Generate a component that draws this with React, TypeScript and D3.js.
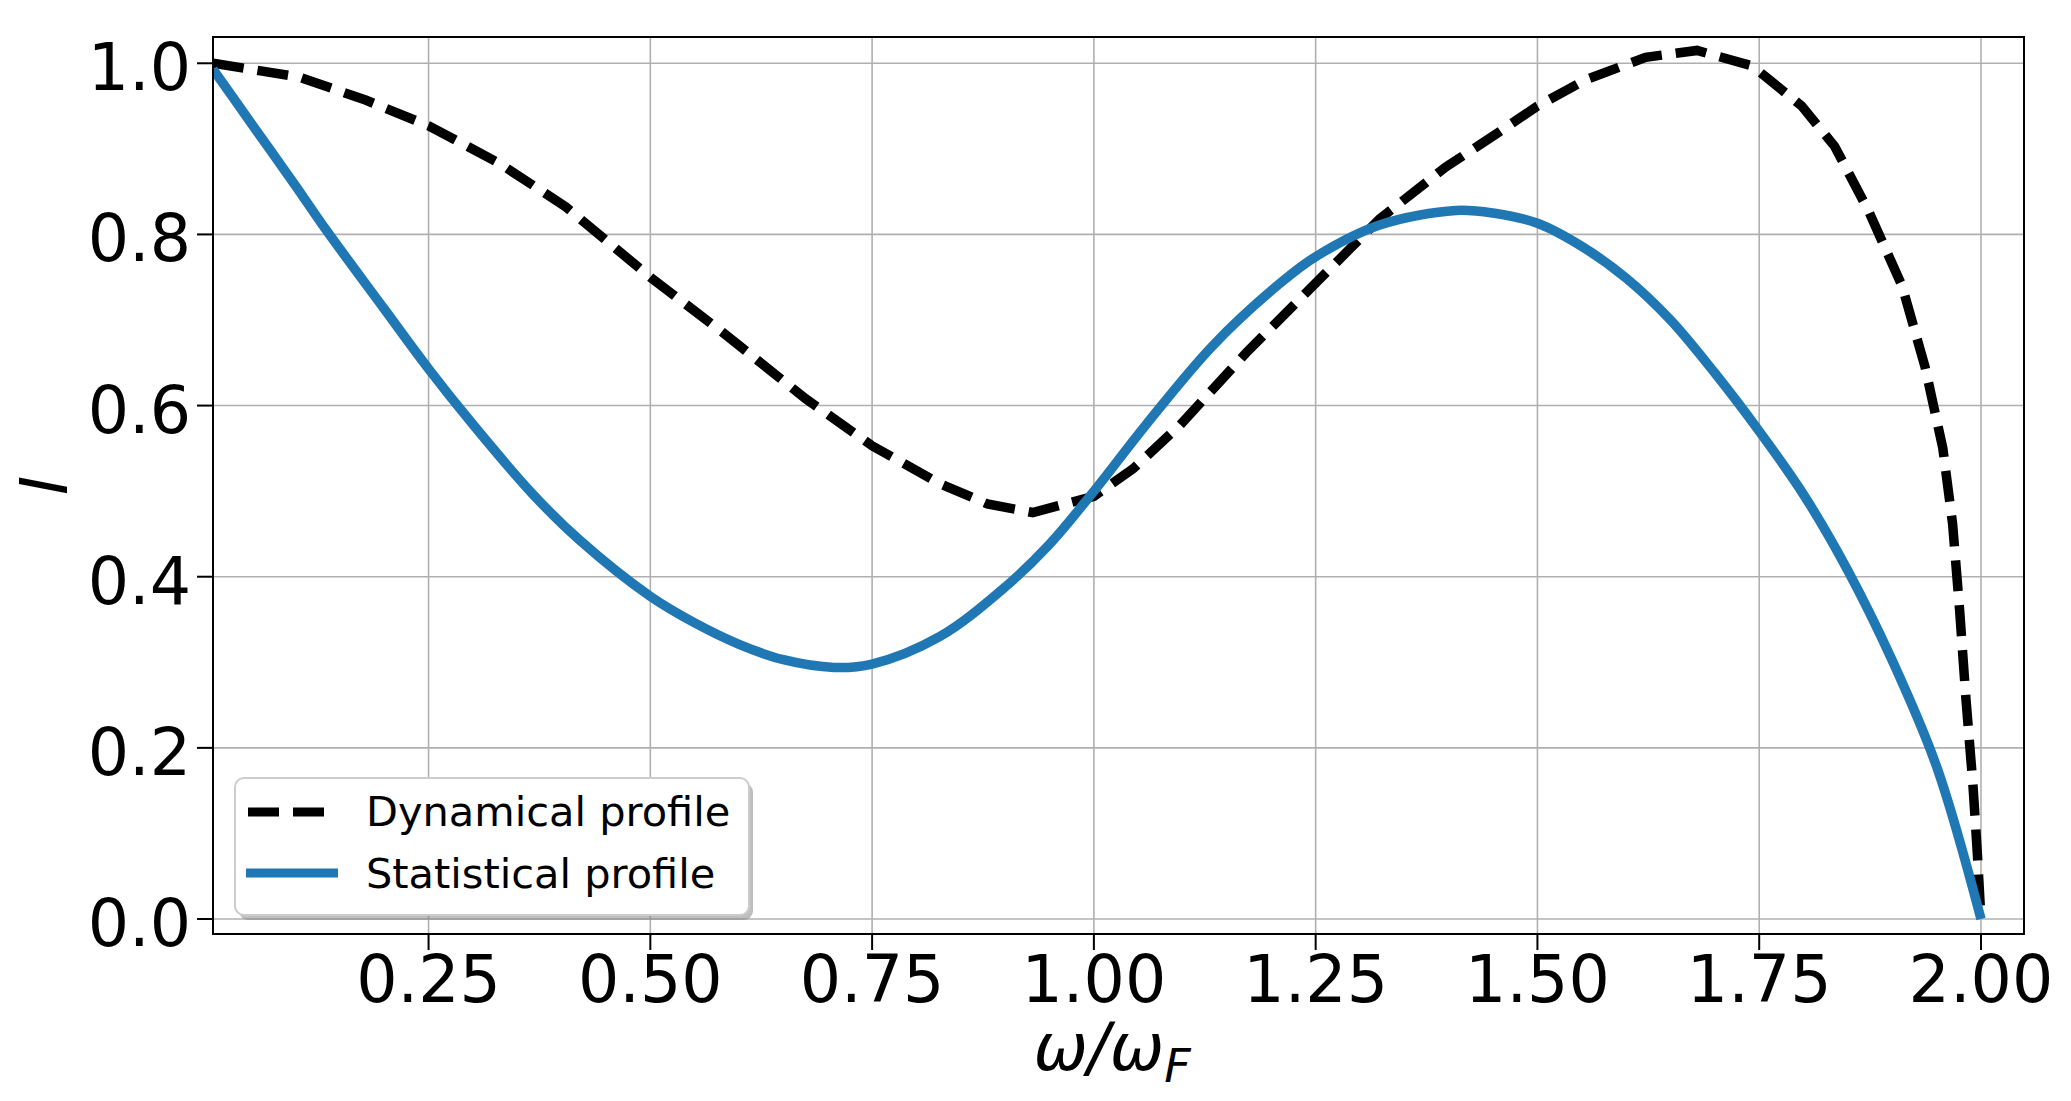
import React from "react";
import * as d3 from "d3";

const xTicks = [0.25, 0.5, 0.75, 1.0, 1.25, 1.5, 1.75, 2.0];
const yTicks = [0.0, 0.2, 0.4, 0.6, 0.8, 1.0];

const statX = [0.007, 0.05, 0.1, 0.134, 0.2, 0.25, 0.3, 0.367, 0.42, 0.5, 0.55, 0.6, 0.65, 0.707, 0.75, 0.826, 0.9, 0.95, 1.0, 1.059, 1.134, 1.21, 1.25, 1.322, 1.408, 1.45, 1.5, 1.55, 1.6, 1.65, 1.7, 1.75, 1.8, 1.85, 1.9, 1.95, 2.0];
const statY = [0.993, 0.93, 0.857, 0.806, 0.713, 0.643, 0.578, 0.497, 0.443, 0.377, 0.346, 0.321, 0.303, 0.294, 0.298, 0.33, 0.388, 0.438, 0.5, 0.578, 0.67, 0.743, 0.774, 0.811, 0.828, 0.825, 0.813, 0.786, 0.749, 0.7, 0.638, 0.57, 0.496, 0.407, 0.302, 0.178, 0.0];

const dynX = [0.007, 0.104, 0.179, 0.25, 0.33, 0.405, 0.5, 0.581, 0.675, 0.75, 0.826, 0.88, 0.931, 1.0, 1.044, 1.097, 1.172, 1.25, 1.322, 1.397, 1.453, 1.5, 1.555, 1.622, 1.68, 1.742, 1.798, 1.835, 1.873, 1.911, 1.937, 1.957, 1.968, 1.976, 1.983, 1.991, 1.996, 2.0];
const dynY = [1.0, 0.984, 0.957, 0.927, 0.883, 0.832, 0.75, 0.686, 0.608, 0.553, 0.509, 0.485, 0.475, 0.494, 0.526, 0.577, 0.662, 0.743, 0.818, 0.879, 0.917, 0.95, 0.981, 1.007, 1.015, 0.997, 0.95, 0.903, 0.828, 0.74, 0.645, 0.55, 0.462, 0.36, 0.258, 0.156, 0.075, 0.0];

const seriesNames = ["Dynamical profile", "Statistical profile"];

const W = 2071, H = 1101;
const L = 213, R = 2024, T = 37, B = 934;
const FONT = "'DejaVu Sans', sans-serif";
const LW = 9.5;

export default function App() {
  const x = d3.scaleLinear().domain([0.007, 2.0485]).range([L, R]);
  const y = d3.scaleLinear().domain([-0.0175, 1.0307]).range([B, T]);

  const stat = statX.map((v, i) => [v, statY[i]] as [number, number]);
  const dyn = dynX.map((v, i) => [v, dynY[i]] as [number, number]);

  const smooth = d3.line<[number, number]>().x(d => x(d[0])).y(d => y(d[1])).curve(d3.curveCatmullRom.alpha(0.5));
  const linear = d3.line<[number, number]>().x(d => x(d[0])).y(d => y(d[1]));

  const legX = 235, legY = 778, legW = 514, legH = 137;

  return (
    <svg width={W} height={H} style={{ position: "absolute", left: 0, top: 0, background: "#fff" }} fontFamily={FONT}>
      <rect x={0} y={0} width={W} height={H} fill="#fff" />
      <defs>
        <clipPath id="plotclip">
          <rect x={L} y={T} width={R - L} height={B - T} />
        </clipPath>
      </defs>
      {xTicks.map(t => (
        <line key={"gx" + t} x1={x(t)} x2={x(t)} y1={T} y2={B} stroke="#b0b0b0" strokeWidth={1.6} />
      ))}
      {yTicks.map(t => (
        <line key={"gy" + t} x1={L} x2={R} y1={y(t)} y2={y(t)} stroke="#b0b0b0" strokeWidth={1.6} />
      ))}
      <g clipPath="url(#plotclip)">
        <path d={linear(dyn) || ""} fill="none" stroke="#000" strokeWidth={LW} strokeDasharray="31 14" />
        <path d={smooth(stat) || ""} fill="none" stroke="#1f77b4" strokeWidth={LW} />
      </g>
      <rect x={L} y={T} width={R - L} height={B - T} fill="none" stroke="#000" strokeWidth={2} />
      {xTicks.map(t => (
        <g key={"xt" + t}>
          <line x1={x(t)} x2={x(t)} y1={B} y2={B + 16} stroke="#000" strokeWidth={2} />
          <text x={x(t)} y={1002} fontSize={65} textAnchor="middle" fill="#000">{t.toFixed(2)}</text>
        </g>
      ))}
      {yTicks.map(t => (
        <g key={"yt" + t}>
          <line x1={L - 16} x2={L} y1={y(t)} y2={y(t)} stroke="#000" strokeWidth={2} />
          <text x={191} y={y(t) + 27} fontSize={65} textAnchor="end" fill="#000">{t.toFixed(1)}</text>
        </g>
      ))}
      <text x={1112} y={1070} fontSize={65} fontStyle="italic" textAnchor="middle" fill="#000">
        ω/ω<tspan fontSize={46} dy={12}>F</tspan>
      </text>
      <text transform={`translate(67, ${(T + B) / 2}) rotate(-90)`} fontSize={65} fontStyle="italic" textAnchor="middle" fill="#000">I</text>
      <rect x={legX + 4} y={legY + 5} width={legW} height={legH} rx={9} fill="#808080" opacity={0.5} />
      <rect x={legX} y={legY} width={legW} height={legH} rx={9} fill="#fff" stroke="#cccccc" strokeWidth={2} />
      <line x1={248} x2={324} y1={812} y2={812} stroke="#000" strokeWidth={9} strokeDasharray="31 14" />
      <line x1={246} x2={338} y1={873} y2={873} stroke="#1f77b4" strokeWidth={9} />
      <text x={366} y={826} fontSize={41.5} fill="#000">{seriesNames[0]}</text>
      <text x={366} y={888} fontSize={41.5} fill="#000">{seriesNames[1]}</text>
    </svg>
  );
}
